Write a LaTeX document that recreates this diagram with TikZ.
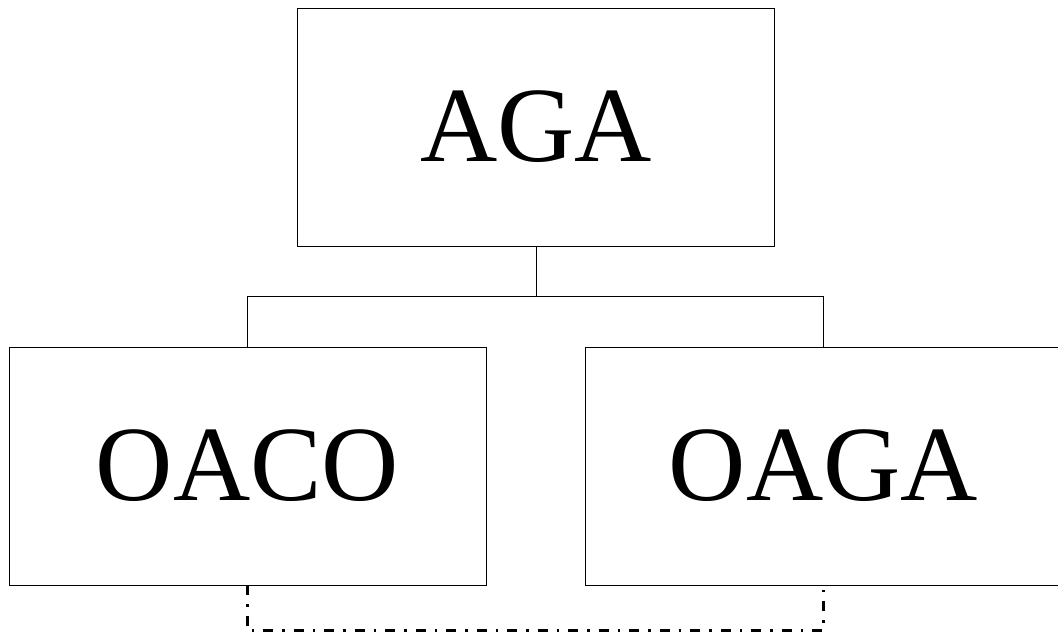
\documentclass[tikz,border=0pt]{standalone}
\usepackage{fontspec}
\setmainfont{Liberation Serif}
\begin{document}
\begin{tikzpicture}[x=1pt,y=1pt,
  unit/.style={draw, line width=0.9pt, rectangle, minimum width=477pt, minimum height=238pt,
    inner sep=0pt, font=\fontsize{107}{110}\selectfont},
  link/.style={line width=0.9pt},
  peer/.style={line width=2.5pt, dash pattern=on 10pt off 9pt on 2.5pt off 9pt}]
\useasboundingbox (0,0) rectangle (1058,635);
\node[unit] (aga)  at (536,508)   {AGA};
\node[unit] (oaco) at (247.5,169) {OACO};
\node[unit] (oaga) at (823.5,169) {OAGA};
\coordinate (j) at (536,339);
\coordinate (b) at (536,4.5);
\draw[link] (aga.south) -- (j);
\draw[link] (oaco.north) -- (oaco.north |- j) -- (oaga.north |- j) -- (oaga.north);
\draw[peer] (oaco.south) -- (oaco.south |- b) -- (oaga.south |- b) -- (oaga.south);
\end{tikzpicture}
\end{document}
